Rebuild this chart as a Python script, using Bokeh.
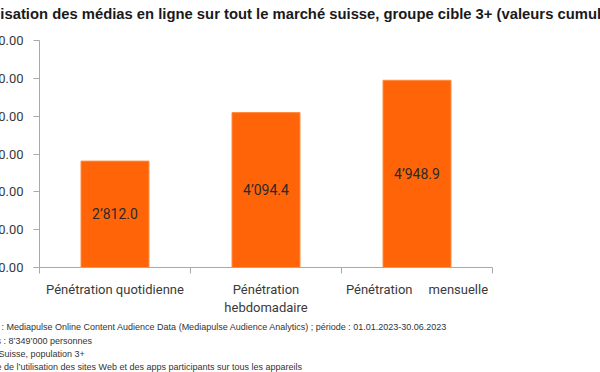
from bokeh.plotting import figure
from bokeh.models import FixedTicker, Range1d, Title
from bokeh.core.properties import value
from bokeh.embed import file_html
from bokeh.resources import INLINE

# ---- data ----
categories = ["Pénétration quotidienne", "Pénétration\nhebdomadaire",
              "Pénétration\u00a0\u00a0\u00a0\u00a0 mensuelle"]
values = [2812.0, 4094.4, 4948.9]
value_labels = ["2’812.0", "4’094.4", "4’948.9"]
y_ticks = [0, 1000, 2000, 3000, 4000, 5000, 6000]
y_tick_labels = ["0.00", "1’000.00", "2’000.00", "3’000.00", "4’000.00", "5’000.00", "6’000.00"]
title_text = "Utilisation des médias en ligne sur tout le marché suisse, groupe cible 3+ (valeurs cumulées)"
notes = [
    "Source : Mediapulse Online Content Audience Data (Mediapulse Audience Analytics) ; période : 01.01.2023-30.06.2023",
    "Univers : 8’349’000 personnes",
    "Base : Suisse, population 3+",
    "Somme de l’utilisation des sites Web et des apps participants sur tous les appareils",
]

xs = [i + 0.5 for i in range(len(categories))]
bounds = [float(i) for i in range(len(categories) + 1)]

W, H = 640, 372
p = figure(width=W, height=H, output_backend="svg", toolbar_location=None,
           x_range=Range1d(0, len(categories)), y_range=Range1d(0, 6000),
           min_border_left=79, min_border_right=108, min_border_top=40, min_border_bottom=104,
           margin=(0, 0, 0, -40))
p.outline_line_color = None
p.xgrid.grid_line_color = None
p.ygrid.grid_line_color = None
p.background_fill_color = "white"
p.border_fill_color = "white"

p.vbar(x=xs, top=values, width=0.45, fill_color="#ff6508", line_color="#ff8a3d", line_width=1)
p.text(x=xs, y=[v / 2 for v in values], text=value_labels,
       text_align="center", text_baseline="middle",
       text_font=value("Roboto"), text_font_size="14px", text_color="#2a2a2a")

axis_gray = "#a9a9a9"
label_col = "#3a3a3a"

ya = p.yaxis[0]
ya.ticker = FixedTicker(ticks=y_ticks, minor_ticks=[])
ya.major_label_overrides = {t: l for t, l in zip(y_ticks, y_tick_labels)}
ya.axis_line_color = axis_gray
ya.major_tick_line_color = axis_gray
ya.major_tick_out = 6
ya.major_tick_in = 0
ya.minor_tick_line_color = None
ya.major_label_standoff = 10
ya.major_label_text_font = "Roboto"
ya.major_label_text_font_size = "13px"
ya.major_label_text_color = label_col

xa = p.xaxis[0]
xa.ticker = FixedTicker(ticks=xs, minor_ticks=bounds)
xa.major_label_overrides = {x: c for x, c in zip(xs, categories)}
xa.axis_line_color = axis_gray
xa.major_tick_line_color = None
xa.major_tick_out = 0
xa.major_tick_in = 0
xa.minor_tick_line_color = axis_gray
xa.minor_tick_out = 6
xa.minor_tick_in = 0
xa.major_label_standoff = 8
xa.major_label_text_font = "Roboto"
xa.major_label_text_font_size = "13px"
xa.major_label_text_color = label_col

# trailing empty line makes the title panel taller so the title sits near the top
p.title.text = title_text + "\n"
p.title.align = "left"
p.title.vertical_align = "top"
p.title.offset = -63
p.title.standoff = 1
p.title.text_line_height = 1.0
p.title.text_font = "Liberation Sans"
p.title.text_font_style = "bold"
p.title.text_font_size = "14.8px"
p.title.text_color = "#1a1a1a"

for i, t in enumerate(notes):
    p.add_layout(Title(text=t, align="left", offset=-69, standoff=(4 if i == 0 else 0.5),
                       text_font="Liberation Sans", text_font_size="9px",
                       text_font_style="normal", text_color="#333333"), "below")

open("out.html", "w").write(file_html(p, INLINE))
